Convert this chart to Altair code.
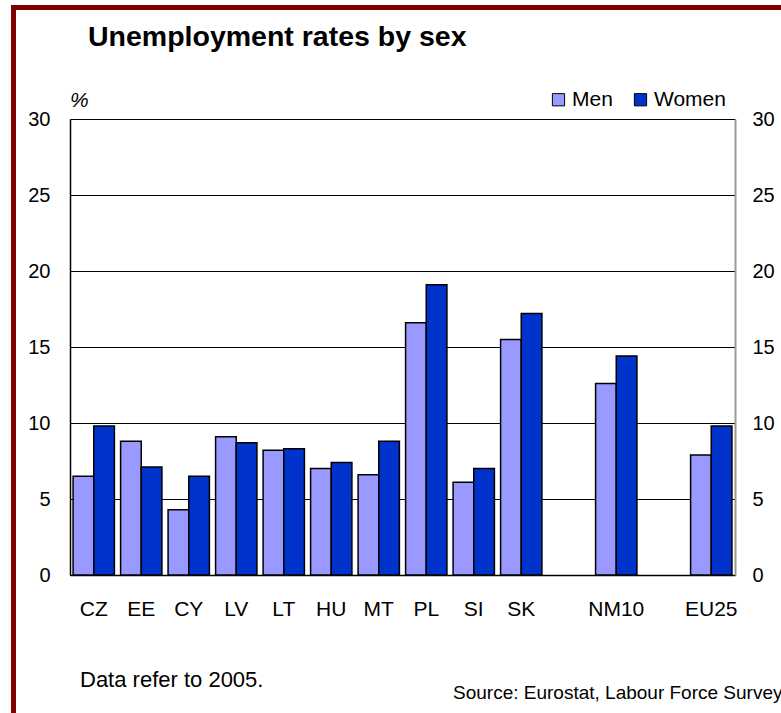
import altair as alt
import pandas as pd

countries = ["CZ", "EE", "CY", "LV", "LT", "HU", "MT", "PL", "SI", "SK", "NM10", "EU25"]
men = [6.5, 8.8, 4.3, 9.1, 8.2, 7.0, 6.6, 16.6, 6.1, 15.5, 12.6, 7.9]
women = [9.8, 7.1, 6.5, 8.7, 8.3, 7.4, 8.8, 19.1, 7.0, 17.2, 14.4, 9.8]
x_order = countries[:10] + ["gap1", "NM10", "gap2", "EU25"]
sexes = ["Men", "Women"]
colors = ["#9999FF", "#0033CC"]
y_ticks = [0, 5, 10, 15, 20, 25, 30]

title_text = "Unemployment rates by sex"
unit_text = "%"
note_text = "Data refer to 2005."
source_text = "Source: Eurostat, Labour Force Survey"

rows = []
for c, m, w in zip(countries, men, women):
    rows.append({"country": c, "sex": "Men", "value": m})
    rows.append({"country": c, "sex": "Women", "value": w})
df = pd.DataFrame(rows)

FONT = "Liberation Sans"
W, H = 665, 456

x_enc = alt.X("country:N", sort=x_order,
              scale=alt.Scale(domain=x_order, paddingInner=0.13, paddingOuter=0.065),
              axis=alt.Axis(title=None, ticks=False, labelAngle=0, labelFontSize=21,
                            labelFont=FONT, labelColor="black", labelPadding=23,
                            domainColor="black", domainWidth=1.5,
                            labelExpr="indexof(datum.value, 'gap') == 0 ? '' : datum.value"))
y_scale = alt.Scale(domain=[0, 30], nice=False)

bars = alt.Chart(df).mark_bar(stroke="black", strokeWidth=1.5).encode(
    x=x_enc,
    xOffset=alt.XOffset("sex:N", scale=alt.Scale(domain=sexes, paddingInner=0, paddingOuter=0)),
    y=alt.Y("value:Q", scale=y_scale,
            axis=alt.Axis(title=None, values=y_ticks, ticks=False, grid=True,
                          gridColor="black", gridWidth=1, domainColor="black",
                          domainWidth=1.5, labelFontSize=20, labelFont=FONT,
                          labelColor="black", labelPadding=20)),
    color=alt.Color("sex:N", scale=alt.Scale(domain=sexes, range=colors),
                    legend=alt.Legend(orient="none", legendX=478, legendY=-30,
                                      direction="horizontal", title=None,
                                      symbolType="square", symbolSize=150,
                                      symbolStrokeColor="black", symbolStrokeWidth=1,
                                      labelFontSize=21, labelFont=FONT, labelColor="black",
                                      columnPadding=17, labelOffset=3, padding=0)),
)

right_axis = alt.Chart(df).mark_tick(opacity=0).encode(
    x=alt.X("country:N", sort=x_order, scale=alt.Scale(domain=x_order)),
    y=alt.Y("value:Q", scale=y_scale,
            axis=alt.Axis(title=None, orient="right", values=y_ticks, ticks=False,
                          grid=False, domainColor="#9a9a9a", domainWidth=2,
                          labelFontSize=20, labelFont=FONT, labelColor="black",
                          labelPadding=17)),
)

one = pd.DataFrame({"k": [0]})
border_top = alt.Chart(one).mark_rect(color="#800000").encode(
    x=alt.value(-59), x2=alt.value(720), y=alt.value(-114), y2=alt.value(-109))
border_left = alt.Chart(one).mark_rect(color="#800000").encode(
    x=alt.value(-59), x2=alt.value(-54), y=alt.value(-114), y2=alt.value(600))

title = alt.Chart(one).mark_text(align="left", baseline="alphabetic", font=FONT,
                                 fontSize=28.5, fontWeight="bold", color="black").encode(
    x=alt.value(18), y=alt.value(-73), text=alt.value(title_text))
unit = alt.Chart(one).mark_text(align="left", baseline="alphabetic", font=FONT,
                                fontSize=21, fontStyle="italic", color="black").encode(
    x=alt.value(0), y=alt.value(-12), text=alt.value(unit_text))
note = alt.Chart(one).mark_text(align="left", baseline="alphabetic", font=FONT,
                                fontSize=22, color="black").encode(
    x=alt.value(10), y=alt.value(568), text=alt.value(note_text))
source = alt.Chart(one).mark_text(align="left", baseline="alphabetic", font=FONT,
                                  fontSize=19, color="black").encode(
    x=alt.value(383), y=alt.value(580), text=alt.value(source_text))

chart = alt.layer(bars, right_axis, border_top, border_left, title, unit, note, source).resolve_scale(
    y="independent"
).properties(
    width=W, height=H,
    autosize=alt.AutoSizeParams(type="none"),
    padding={"left": 70, "top": 119, "right": 46, "bottom": 138},
    background="white",
).configure_view(stroke="transparent")

chart.save("out.html", embed_options={"renderer": "svg", "actions": False})
